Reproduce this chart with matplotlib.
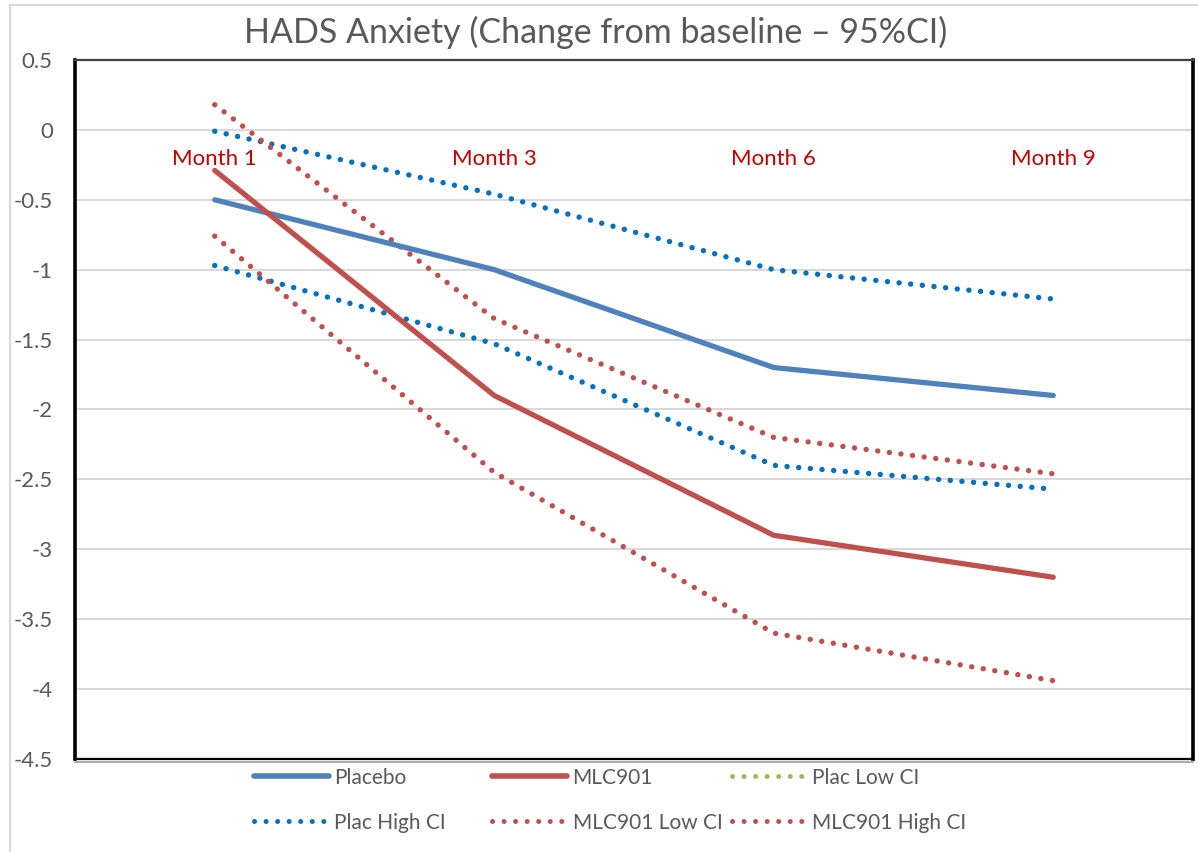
import matplotlib
matplotlib.use("Agg")
import matplotlib.pyplot as plt
from matplotlib.lines import Line2D
from matplotlib.patches import Rectangle

plt.rcParams["font.family"] = ["Lato", "DejaVu Sans"]

months = ["Month 1", "Month 3", "Month 6", "Month 9"]
placebo = [-0.50, -1.00, -1.70, -1.90]
mlc901 = [-0.29, -1.90, -2.90, -3.20]
plac_low = [-0.97, -1.53, -2.40, -2.57]
plac_high = [-0.01, -0.46, -1.00, -1.21]
mlc_low = [-0.76, -2.45, -3.60, -3.94]
mlc_high = [0.18, -1.35, -2.20, -2.46]
yticks = [0.5, 0, -0.5, -1, -1.5, -2, -2.5, -3, -3.5, -4, -4.5]

BLUE = "#4F81BD"
RED = "#C0504D"
CI_BLUE = "#0070C0"
GREEN = "#9BBB59"
TXT = "#595959"

fig = plt.figure(figsize=(11.98, 8.52), dpi=100)
ax = fig.add_axes([0.0626, 0.1092, 0.9332, 0.8204])

x = list(range(len(months)))
dot = dict(lw=3.9, linestyle=(0, (0.01, 2.15)), dash_capstyle="round")

ax.plot(x, plac_low, color=CI_BLUE, **dot)
ax.plot(x, plac_high, color=CI_BLUE, **dot)
ax.plot(x, mlc_low, color=RED, **dot)
ax.plot(x, mlc_high, color=RED, **dot)
ax.plot(x, placebo, color=BLUE, lw=3.8, solid_capstyle="round")
ax.plot(x, mlc901, color=RED, lw=3.8, solid_capstyle="round")

ax.set_xlim(-0.5, 3.5)
ax.set_ylim(-4.5, 0.5)
ax.set_yticks(yticks)
ax.set_yticklabels([f"{v:g}" for v in yticks])
ax.tick_params(axis="y", length=0, pad=16, labelsize=16, labelcolor=TXT)
ax.grid(axis="y", color="#D9D9D9", lw=1.5)
ax.set_axisbelow(True)

# category axis crosses at zero, labels sit just below it
ax.spines["bottom"].set_position(("data", 0))
ax.spines["bottom"].set_visible(False)
ax.set_xticks(x)
ax.set_xticklabels(months)
ax.tick_params(axis="x", length=0, pad=14, labelsize=16, labelcolor="#C00000")

for side in ("left", "right"):
    ax.spines[side].set_color("black")
    ax.spines[side].set_linewidth(2.6)
ax.spines["top"].set_color("#404040")
ax.spines["top"].set_linewidth(1.6)
ax.plot([0, 1], [0, 0], transform=ax.transAxes, color="black", lw=1.6, clip_on=False)
ax.plot([0, 1], [-0.004, -0.004], transform=ax.transAxes, color="#A0A0A0", lw=1.2, clip_on=False)

fig.text(0.497, 0.962, "HADS Anxiety (Change from baseline \u2013 95%CI)",
         ha="center", va="center", fontsize=24.5, color=TXT)

fig.patches.append(Rectangle((0.0085, -0.05), 1.2, 1.044, transform=fig.transFigure,
                             fill=False, edgecolor="#D9D9D9", lw=1.5))

# legend: three columns placed like the Excel layout
dot_h = dict(lw=3.6, linestyle=(0, (0.01, 2.3)), dash_capstyle="round")
columns = [
    (0.212, [Line2D([], [], color=BLUE, lw=4, solid_capstyle="round"),
             Line2D([], [], color=CI_BLUE, **dot_h)], ["Placebo", "Plac High CI"]),
    (0.411, [Line2D([], [], color=RED, lw=4, solid_capstyle="round"),
             Line2D([], [], color=RED, **dot_h)], ["MLC901", "MLC901 Low CI"]),
    (0.611, [Line2D([], [], color=GREEN, **dot_h),
             Line2D([], [], color=RED, **dot_h)], ["Plac Low CI", "MLC901 High CI"]),
]
for x0, hs, ls in columns:
    fig.legend(hs, ls, loc="center left", bbox_to_anchor=(x0, 0.061),
               frameon=False, fontsize=15, labelcolor=TXT, handlelength=3.6,
               handletextpad=0.25, labelspacing=1.2, borderpad=0, borderaxespad=0)

fig.savefig("out.png", dpi=100)
